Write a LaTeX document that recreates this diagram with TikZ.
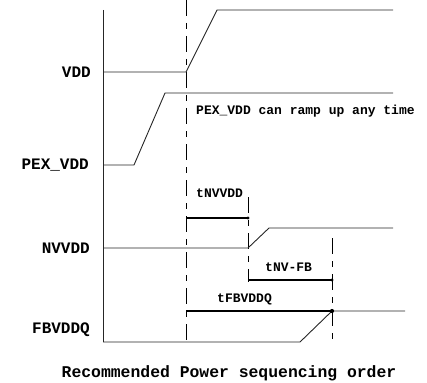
\documentclass[tikz,border=0pt]{standalone}
\usepackage{fontspec}
\newfontfamily\cour{Liberation Mono}
\begin{document}
\begin{tikzpicture}[x=1pt,y=-1pt,
  sig/.style={line width=0.9pt,black!85},
  bar/.style={line width=2.9pt},
  mark line/.style={line width=0.9pt,dash pattern=on 16pt off 7pt on 6pt off 7pt},
  lbl/.style={font=\cour\bfseries\fontsize{16}{18}\selectfont,inner sep=0pt,anchor=east},
  ann/.style={font=\cour\bfseries\fontsize{13}{15}\selectfont,inner sep=0pt,anchor=west}]
\useasboundingbox (0,0) rectangle (427,382);
% axis
\draw[sig] (103,10) -- (103,342);
% time markers
\draw[mark line] (186,0) -- (186,345);
\draw[mark line] (248,197) -- (248,282);
\draw[mark line] (332,238) -- (332,346);
% signals
\draw[sig] (103,72) -- (186,72) -- (217,10) -- (393,10);
\draw[sig] (103,165) -- (134,165) -- (165,93) -- (393,93);
\draw[sig] (103,248) -- (248,248) -- (269,228) -- (393,228);
\draw[sig] (103,342) -- (300,342) -- (332,311) -- (405,311);
% bars
\draw[bar] (186,218) -- (248,218);
\draw[bar] (248,280) -- (332,280);
\draw[bar] (186,311) -- (332,311);
\fill (248,218) circle (1.7);
\fill (332,280) circle (1.7);
\fill (332,311) circle (2.1);
% labels
\node[lbl] (vdd) at (91,72) {VDD};
\node[lbl] (pex) at (89,165) {PEX\_VDD};
\node[lbl] (nv) at (90,248) {NVVDD};
\node[lbl] (fb) at (90,330) {FBVDDQ};
\node[ann] (pexn) at (196,111) {PEX\_VDD can ramp up any time};
\node[ann] (t1) at (196,193) {tNVVDD};
\node[ann] (t2) at (265,267) {tNV-FB};
\node[ann] (t3) at (217,299) {tFBVDDQ};
\node[font=\cour\bfseries\fontsize{16.4}{18}\selectfont,inner sep=0pt] (title) at (229,373) {Recommended Power sequencing order};
\end{tikzpicture}
\end{document}
